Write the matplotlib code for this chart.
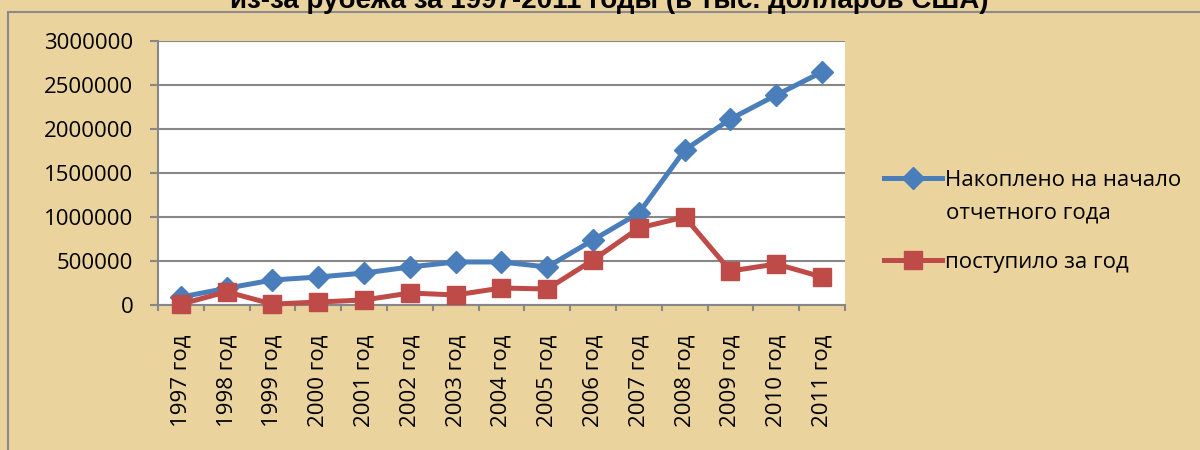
import matplotlib
matplotlib.use("Agg")
import matplotlib.pyplot as plt
from matplotlib.patches import Rectangle
import numpy as np

years = ["1997 год", "1998 год", "1999 год", "2000 год", "2001 год", "2002 год",
         "2003 год", "2004 год", "2005 год", "2006 год", "2007 год", "2008 год",
         "2009 год", "2010 год", "2011 год"]
accumulated = [90000, 190000, 284000, 318000, 363000, 432000, 489000, 489000,
               432000, 739000, 1045000, 1761000, 2114000, 2386000, 2648000]
received = [10000, 150000, 10000, 34000, 57000, 136000, 114000, 193000,
            182000, 511000, 875000, 1000000, 386000, 466000, 318000]
series_names = ["Накоплено на начало", "поступило за год"]
title = "из-за рубежа за 1997-2011 годы (в тыс. долларов США)"
yticks = [0, 500000, 1000000, 1500000, 2000000, 2500000, 3000000]

FONT = ["Open Sans", "DejaVu Sans"]
plt.rcParams["font.family"] = FONT

BG = "#EBD39D"
BLUE = "#4A7EBB"
RED = "#BE4B48"
GRID = "#878787"

fig = plt.figure(figsize=(12, 4.5), dpi=100, facecolor=BG)

# outer chart border
fig.patches.append(Rectangle((8 / 1200, -0.1), 1.2, 1.1 - 12 / 450,
                             transform=fig.transFigure, fill=False,
                             edgecolor="#8a8a8a", lw=1.5, zorder=0))

fig.text(0.508, 1 - 8 / 450, title, ha="center", va="baseline",
         fontsize=20, fontweight="bold", family=["Liberation Sans", "DejaVu Sans"])

ax = fig.add_axes([158 / 1200, 1 - 305 / 450, (845 - 158) / 1200, (305 - 41) / 450])
ax.set_facecolor("white")

x = np.arange(len(years))
l1, = ax.plot(x, accumulated, color=BLUE, lw=3.6, marker="D", ms=11,
              markeredgecolor=BLUE, zorder=3, clip_on=False)
l2, = ax.plot(x, received, color=RED, lw=3.6, marker="s", ms=13,
              markeredgecolor=RED, zorder=4, clip_on=False)

ax.set_xlim(-0.5, len(years) - 0.5)
ax.set_ylim(0, 3000000)
ax.set_yticks(yticks)
ax.set_yticklabels([str(v) for v in yticks], fontsize=16)
ax.yaxis.grid(True, color=GRID, lw=1.5)
ax.set_axisbelow(True)

ax.set_xticks(x)
ax.set_xticklabels(years, rotation=90, fontsize=16, va="top")
ax.set_xticks(np.arange(-0.5, len(years), 1.0), minor=True)
ax.tick_params(axis="x", which="major", length=0, pad=21)
ax.tick_params(axis="x", which="minor", length=4.5, width=1.5, color=GRID, direction="out")
ax.tick_params(axis="y", which="major", length=5.8, width=1.5, color=GRID, pad=12)

for s in ["top", "right"]:
    ax.spines[s].set_visible(False)
for s in ["left", "bottom"]:
    ax.spines[s].set_color(GRID)
    ax.spines[s].set_linewidth(1.5)

leg = fig.legend([l1, l2], series_names, loc="upper left",
                 bbox_to_anchor=(884 / 1200, 1 - 170 / 450), frameon=False,
                 fontsize=16, handlelength=2.6, handletextpad=0.15,
                 labelspacing=2.75, borderpad=0, borderaxespad=0)
fig.text(946 / 1200, 1 - 213 / 450, "отчетного года", fontsize=16,
         ha="left", va="center")

fig.savefig("out.png", dpi=100, facecolor=BG)
